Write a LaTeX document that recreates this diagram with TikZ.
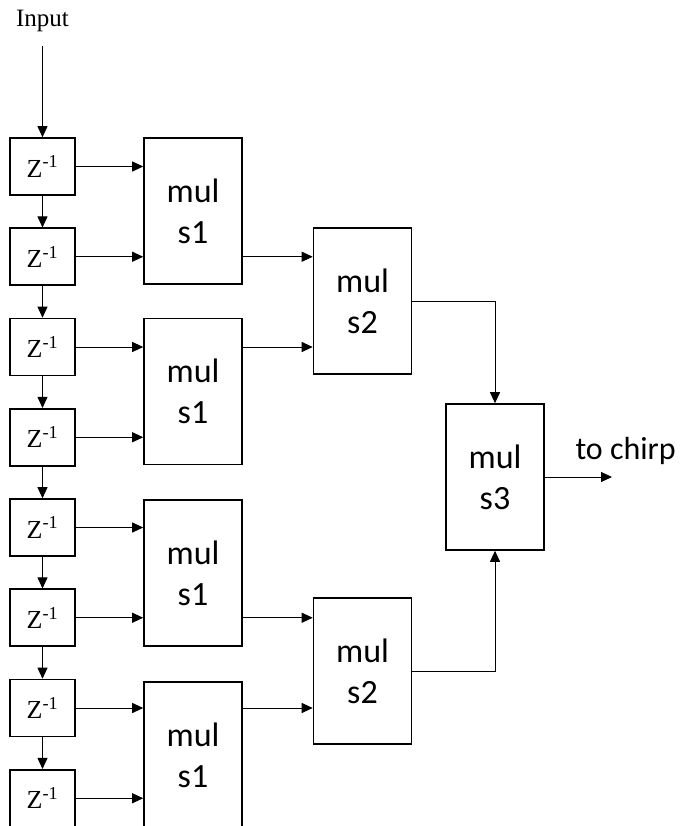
\documentclass[tikz,border=0pt]{standalone}
\usepackage{fontspec}
\setmainfont{Liberation Serif}
\newfontfamily\calibri{Carlito}
\usetikzlibrary{arrows.meta}

\begin{document}
\begin{tikzpicture}[x=1pt,y=-1pt,
		delay/.style={draw,line width=1.6pt,minimum width=65pt,minimum height=57pt,inner sep=0pt,font=\fontsize{26}{26}\selectfont},
		mul/.style={draw,line width=1.6pt,minimum width=98pt,minimum height=146pt,inner sep=0pt,align=center,font=\calibri\fontsize{34}{41}\selectfont},
		link/.style={-{Triangle[length=11pt,width=10pt]},line width=0.9pt}]
		\clip (0,0) rectangle (681,826);
		\node[anchor=base,font=\fontsize{25}{25}\selectfont] (input) at (42.5,27) {Input};
		
		% delay line
		\foreach \i in {1,...,8}
			\node[delay] (z\i) at (42.5,{166.5+90.25*(\i-1)}) {Z\textsuperscript{-1}};
		\draw[link] ([yshift=-10pt]input.south) -- (z1.north);
		\foreach \i [count=\j from 2] in {1,...,7}
			\draw[link] (z\i.south) -- (z\j.north);
		
		% multiplier tree
		\node[mul] (m1a) at (193,211) {mul\\s1};
		\node[mul] (m1b) at (193,391.5) {mul\\s1};
		\node[mul] (m1c) at (193,573) {mul\\s1};
		\node[mul] (m1d) at (193,755) {mul\\s1};
		\node[mul] (m2a) at (362.5,301) {mul\\s2};
		\node[mul] (m2b) at (362.5,671) {mul\\s2};
		\node[mul] (m3) at (495,477) {mul\\s3};
		
		\foreach \i/\m in {1/m1a,2/m1a,3/m1b,4/m1b,5/m1c,6/m1c,7/m1d,8/m1d}
			\draw[link] (z\i.east) -- (z\i.east -| \m.west);
		\draw[link] (m1a.east |- z2.east) -- (m2a.west |- z2.east);
		\draw[link] (m1b.east |- z3.east) -- (m2a.west |- z3.east);
		\draw[link] (m1c.east |- z6.east) -- (m2b.west |- z6.east);
		\draw[link] (m1d.east |- z7.east) -- (m2b.west |- z7.east);
		\draw[link] (m2a.east) -| (m3.north);
		\draw[link] (m2b.east) -| (m3.south);
		
		\coordinate (out) at (612,477);
		\draw[link] (m3.east) -- (out);
		\node[anchor=base west,font=\calibri\fontsize{32}{32}\selectfont] (chirp) at (572,459) {to chirp};
	\end{tikzpicture}
\end{document}
